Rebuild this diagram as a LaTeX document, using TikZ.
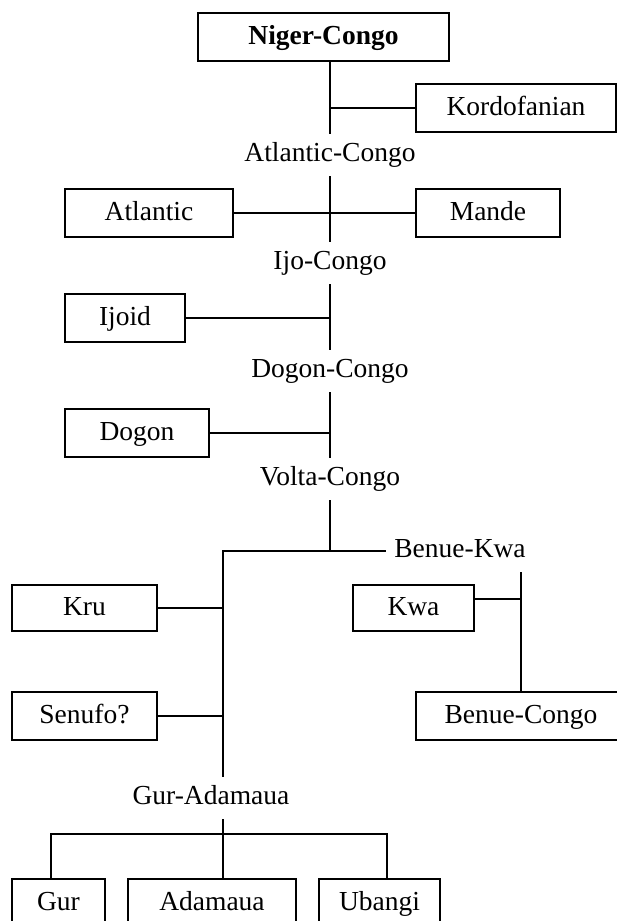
\documentclass[tikz,border=0pt]{standalone}
\usepackage{fontspec}
\setmainfont{Liberation Serif}
\usetikzlibrary{positioning,calc}
\tikzset{box/.style={draw,line width=0.5pt,minimum height=19.2pt,inner sep=2pt,
    text height=7.3pt,text depth=1.6pt},
  lang/.style={inner sep=3.3pt,text height=7.3pt,text depth=2.5pt},
  link/.style={line width=0.5pt}}

\begin{document}
\begin{tikzpicture}[x=0.4pt,y=-0.4pt,font=\fontsize{11}{13}\selectfont]
  \useasboundingbox (0,0) rectangle (617,921);
  \clip (0,0) rectangle (617,921);
  \node [box,minimum width=100.4pt] (nc) at (323.5,37) {\textbf{Niger-Congo}};
  \node [box,minimum width=80pt] (kord) at (516,108) {Kordofanian};
  \node [lang] (ac) at (330,155) {Atlantic-Congo};
  \node [box,minimum width=67.2pt] (atl) at (149,213) {Atlantic};
  \node [box,minimum width=57.6pt] (mande) at (488,213) {Mande};
  \node [lang] (ic) at (330,263) {Ijo-Congo};
  \node [box,minimum width=48pt] (ijoid) at (125,318) {Ijoid};
  \node [lang] (dc) at (330,371) {Dogon-Congo};
  \node [box,minimum width=57.6pt] (dogon) at (137,433) {Dogon};
  \node [lang] (vc) at (330,479) {Volta-Congo};
  \node [lang] (bk) at (460,551) {Benue-Kwa};
  \node [box,minimum width=58pt,minimum height=18.4pt] (kru) at (84.5,608) {Kru};
  \node [box,minimum width=48.4pt,minimum height=18.4pt] (kwa) at (413.5,608) {Kwa};
  \node [box,minimum width=58pt] (senufo) at (84.5,716) {Senufo?};
  \node [box,minimum width=84pt] (bc) at (521,716) {Benue-Congo};
  \node [lang] (ga) at (211,798) {Gur-Adamaua};
  \node [box,minimum width=37.2pt] (gur) at (58.5,903) {Gur};
  \node [box,minimum width=67.2pt] (adam) at (212,903) {Adamaua};
  \node [box,minimum width=48.4pt] (ubangi) at (379.5,903) {Ubangi};
  \coordinate (ls) at (223,551);
  \coordinate (kwaj) at (521,599);
  \coordinate (gaj) at (223,834);
  \coordinate (gurj) at (51,834);
  \coordinate (ubaj) at (387,834);
  \draw [link] (nc.south -| ac) -- (ac.north);
  \draw [link] (kord.west) -- (kord.west -| ac);
  \draw [link] (ac) -- (ic);
  \draw [link] (atl.east) -- (mande.west);
  \draw [link] (ic) -- (dc);
  \draw [link] (ijoid.east) -- (ijoid.east -| ic);
  \draw [link] (dc) -- (vc);
  \draw [link] (dogon.east) -- (dogon.east -| dc);
  \draw [link] (vc.south) -- (vc |- ls);
  \draw [link] (bk.west |- ls) -- (ls) -- (ls |- ga.north);
  \draw [link] (kru.east) -- (kru.east -| ls);
  \draw [link] (senufo.east) -- (senufo.east -| ls);
  \draw [link] (bk.south -| bc) -- (bc.north);
  \draw [link] (kwa.east |- kwaj) -- (kwaj);
  \draw [link] (ga.south -| gaj) -- (adam.north -| gaj);
  \draw [link] (gur.north -| gurj) -- (gurj) -- (ubaj) -- (ubangi.north -| ubaj);
\end{tikzpicture}
\end{document}
